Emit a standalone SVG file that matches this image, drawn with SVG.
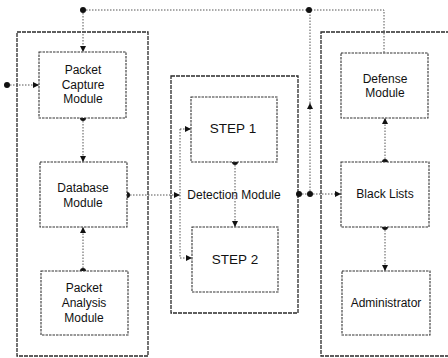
<svg xmlns="http://www.w3.org/2000/svg" width="448" height="358" viewBox="0 0 448 358">
<defs>
<style>
.outer{fill:none;stroke:#2a2a2a;stroke-width:1.3;stroke-dasharray:4 1}
.box{fill:#fff;stroke:#333;stroke-width:1.1;stroke-dasharray:2.5 1}
.con{fill:none;stroke:#555;stroke-width:1;stroke-dasharray:1.5 1.5}
.dot{fill:#111}
.t{font-family:"Liberation Sans",Arial,sans-serif;font-size:12px;fill:#111;text-anchor:middle}
.s{font-size:13.5px}
</style>
<marker id="ah" viewBox="0 0 6 6" refX="6" refY="3" markerWidth="6" markerHeight="6" markerUnits="userSpaceOnUse" orient="auto">
<path d="M0,0 L6,3 L0,6 Z" fill="#111"/>
</marker>
</defs>
<rect width="448" height="358" fill="#fff"/>
<g id="containers">
<rect class="outer" x="17" y="32" width="131" height="324"/>
<rect class="outer" x="171" y="76" width="127" height="237"/>
<rect class="outer" x="321" y="32" width="132" height="324"/>
</g>
<g id="connectors">
<path class="con" d="M83,10 H384 V53"/>
<path class="con" d="M83,10 V52" marker-end="url(#ah)"/>
<path class="con" d="M7,85 H39" marker-end="url(#ah)"/>
<path class="con" d="M83,118 V162" marker-end="url(#ah)"/>
<path class="con" d="M83,271 V227" marker-end="url(#ah)"/>
<path class="con" d="M127,195 H180" marker-end="url(#ah)"/>
<path class="con" d="M180,129 V258"/>
<path class="con" d="M180,129 H191" marker-end="url(#ah)"/>
<path class="con" d="M180,258 H192" marker-end="url(#ah)"/>
<path class="con" d="M235,162 V227" marker-end="url(#ah)"/>
<path class="con" d="M299,194 H310"/>
<path class="con" d="M310,194 V103" marker-end="url(#ah)"/>
<path class="con" d="M310,103 V10"/>
<path class="con" d="M310,194 H341" marker-end="url(#ah)"/>
<path class="con" d="M385,162 V118" marker-end="url(#ah)"/>
<path class="con" d="M385,227 V271" marker-end="url(#ah)"/>
<circle class="dot" cx="83" cy="10" r="3"/>
<circle class="dot" cx="309" cy="10" r="3"/>
<circle class="dot" cx="7" cy="85" r="3"/>
<circle class="dot" cx="83" cy="118" r="3"/>
<circle class="dot" cx="83" cy="271" r="3"/>
<circle class="dot" cx="127" cy="195" r="3"/>
<circle class="dot" cx="235" cy="162" r="3"/>
<circle class="dot" cx="299" cy="194" r="3"/>
<circle class="dot" cx="310" cy="194" r="3"/>
<circle class="dot" cx="385" cy="162" r="3"/>
<circle class="dot" cx="385" cy="227" r="3"/>
</g>
<g id="packet-capture">
<rect class="box" x="39" y="52" width="87" height="66"/>
<text class="t" x="83" y="74">Packet</text>
<text class="t" x="83" y="89">Capture</text>
<text class="t" x="83" y="103">Module</text>
</g>
<g id="database">
<rect class="box" x="40" y="162" width="87" height="65"/>
<text class="t" x="83" y="192">Database</text>
<text class="t" x="83" y="207">Module</text>
</g>
<g id="packet-analysis">
<rect class="box" x="41" y="271" width="87" height="64"/>
<text class="t" x="84" y="292">Packet</text>
<text class="t" x="84" y="307">Analysis</text>
<text class="t" x="84" y="322">Module</text>
</g>
<g id="detection-module">
<text class="t" x="234" y="199">Detection Module</text>
</g>
<g id="step1">
<rect class="box" x="191" y="97" width="86" height="65"/>
<text class="t s" x="233" y="133">STEP 1</text>
</g>
<g id="step2">
<rect class="box" x="192" y="227" width="86" height="65"/>
<text class="t s" x="235" y="264">STEP 2</text>
</g>
<g id="defense">
<rect class="box" x="341" y="53" width="87" height="65"/>
<text class="t" x="385" y="83">Defense</text>
<text class="t" x="385" y="97">Module</text>
</g>
<g id="black-lists">
<rect class="box" x="341" y="162" width="88" height="65"/>
<text class="t" x="385" y="198">Black Lists</text>
</g>
<g id="administrator">
<rect class="box" x="342" y="271" width="88" height="64"/>
<text class="t" x="386" y="307">Administrator</text>
</g>
</svg>
